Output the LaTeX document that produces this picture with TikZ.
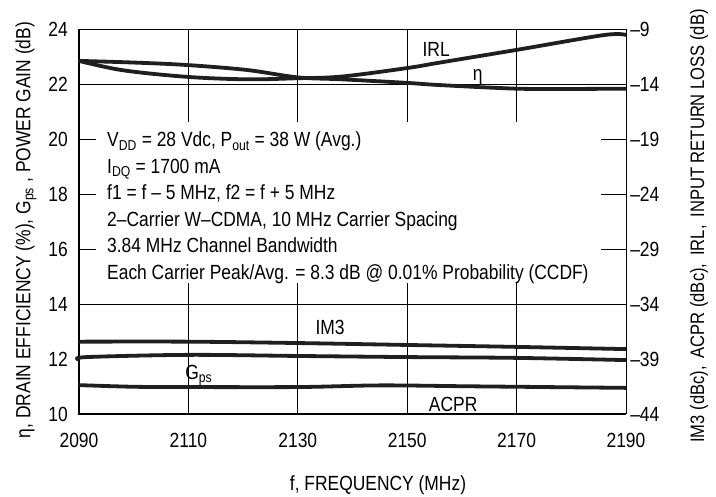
\documentclass[tikz,border=0pt]{standalone}
\usepackage{fontspec}
\setmainfont{Liberation Sans}[FakeStretch=0.85]
\usetikzlibrary{calc}

\begin{document}
\begin{tikzpicture}[x=1pt,y=1pt,
  curve/.style={line width=3.8pt, black!88, smooth, tension=0.55, line join=round},
  gridline/.style={line width=0.9pt},
  axisline/.style={line width=2.2pt},
  txt/.style={font=\fontsize{20.5}{24}\selectfont, inner sep=0pt}]

\useasboundingbox (0,0) rectangle (716,497);

% plot area: x = f - 2090 (MHz), y = gain scale
\begin{scope}[shift={(79pt,-192pt)}, x=5.47pt, y=27.5pt]

% frame and grid
\draw[gridline] (0,24) -- (100,24) -- (100,10);
\draw[gridline] (0,22) -- (100,22);
\draw[gridline] (0,14) -- (100,14);
\foreach \x in {20,40,60,80} {
\draw[gridline] (\x,24) -- (\x,20.63);
\draw[gridline] (\x,14.76) -- (\x,10);
}
\foreach \y in {16,18,20} {
\draw[gridline] (0,\y) -- (3.1,\y);     % left ticks
\draw[gridline] (95.43,\y) -- (100,\y); % right ticks
}
\draw[axisline] (0,24) -- (0,10) -- (100,10);

% left axis values
\foreach \y in {10,12,...,24}
\node[txt, anchor=east] (gl\y) at (-2.0,\y) {\y};

% right axis values
\foreach \y/\v in {10/44,12/39,14/34,16/29,18/24,20/19,22/14,24/9}
\node[txt, anchor=west] (gr\y) at (100.75,\y) {–\v};

% frequency values
\foreach \x/\f in {0/2090,20/2110,40/2130,60/2150,80/2170,100/2190}
\node[txt] (fx\f) at (\x,9.05) {\f};

% measured curves
\draw[curve] plot coordinates {(0,22.84) (10,22.78) (19.7,22.69) (30.7,22.51)
  (40,22.24) (48,22.17) (60,22.04) (66,21.96) (80,21.83) (90,21.82) (100,21.83)};
\draw[curve] plot coordinates {(0,22.84) (8,22.5) (19.7,22.26) (30.7,22.17)
  (40,22.21) (48,22.27) (60,22.58) (66,22.78) (80,23.24) (96,23.78) (100,23.78)};
\draw[curve] plot coordinates {(0,12.63) (20,12.63) (40,12.58) (60,12.51) (80,12.44) (100,12.36)};
\draw[curve] plot coordinates {(0,11.98) (1.5,12.07) (20,12.15) (40,12.11) (60,12.07) (80,12.04) (100,11.96)};
\draw[curve] plot coordinates {(0,11.05) (10,10.99) (20,10.98) (40,10.98) (55,11.04)
  (70,11.01) (80,10.99) (100,10.95)};

% curve names
\node[txt] (irl) at (65.3,23.24) {IRL};
\node[txt] (eta) at (72.9,22.25) {η};
\node[txt] (im3) at (45.9,13.13) {IM3};
\node[txt] (gps) at (21.9,11.42) {G\textsubscript{ps}};
\node[txt] (acpr) at (68.4,10.36) {ACPR};
\end{scope}

% test conditions
\foreach \i/\txt in {0/{V\textsubscript{DD} = 28 Vdc, P\textsubscript{out} = 38 W (Avg.)},
  1/{I\textsubscript{DQ} = 1700 mA},
  2/{f1 = f – 5 MHz, f2 = f + 5 MHz},
  3/{2–Carrier W–CDMA, 10 MHz Carrier Spacing},
  4/{3.84 MHz Channel Bandwidth},
  5/{Each Carrier Peak/Avg. = 8.3 dB @ 0.01\% Probability (CCDF)}}
\node[txt, anchor=base west] (cond\i) at (107,350-26.5*\i) {\txt};

% axis titles
\node[txt, rotate=90] (ylab) at (26,267)
  {η, DRAIN EFFICIENCY (\%), G\textsubscript{ps} , POWER GAIN (dB)};
\node[txt, rotate=90, font=\fontsize{19.5}{23}\selectfont] (y2lab) at (699,271)
  {IM3 (dBc),\, ACPR (dBc),\, IRL,\, INPUT RETURN LOSS (dB)};
\node[txt] (xlab) at (378,12) {f, FREQUENCY (MHz)};

\end{tikzpicture}
\end{document}
